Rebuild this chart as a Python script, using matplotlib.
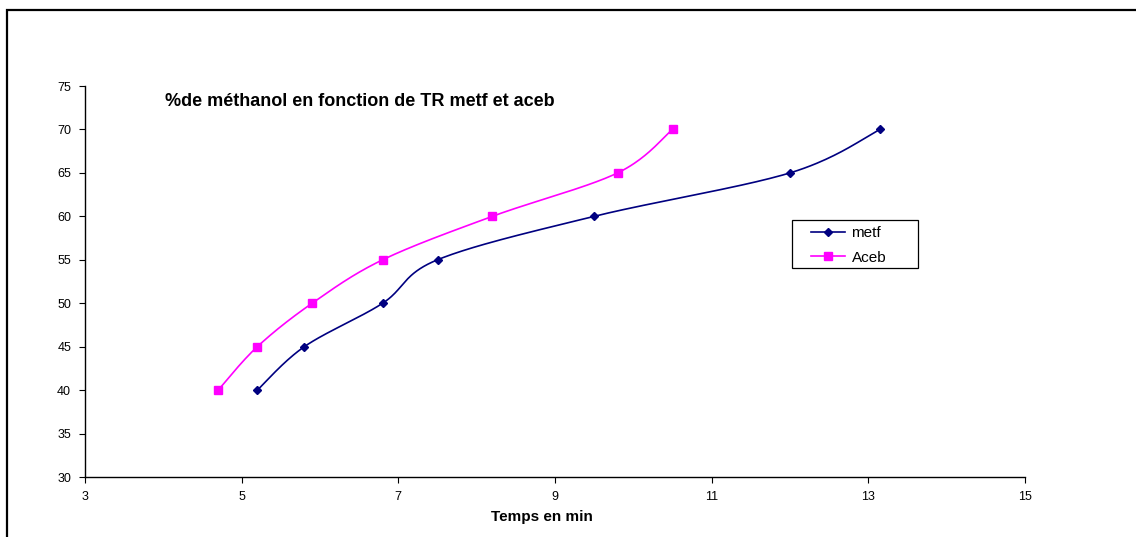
import numpy as np
import matplotlib
matplotlib.use("Agg")
import matplotlib.pyplot as plt
from matplotlib.patches import Rectangle
from matplotlib.lines import Line2D

plt.rcParams['font.family'] = ['Liberation Sans', 'DejaVu Sans']

# Retention times (min) and methanol percentage
metf_t = [5.2, 5.8, 6.8, 7.5, 9.5, 12.0, 13.15]
metf_pct = [40, 45, 50, 55, 60, 65, 70]
aceb_t = [4.7, 5.2, 5.9, 6.8, 8.2, 9.8, 10.5]
aceb_pct = [40, 45, 50, 55, 60, 65, 70]

x_ticks = [3, 5, 7, 9, 11, 13, 15]
y_ticks = [30, 35, 40, 45, 50, 55, 60, 65, 70, 75]

title = "%de méthanol en fonction de TR metf et aceb"
xlabel = "Temps en min"
series_names = ['metf', 'Aceb']


def smooth(x, y, n=40):
    """Piecewise cubic Bezier through the points (spreadsheet-style smoothing)."""
    p = np.column_stack([x, y]).astype(float)
    m = len(p)
    out = [p[0]]
    for i in range(m - 1):
        p_prev = p[i - 1] if i > 0 else p[i]
        p_next2 = p[i + 2] if i + 2 < m else p[i + 1]
        c1 = p[i] + (p[i + 1] - p_prev) / 6.0
        c2 = p[i + 1] - (p_next2 - p[i]) / 6.0
        t = np.linspace(0, 1, n)[1:, None]
        seg = ((1 - t) ** 3 * p[i] + 3 * (1 - t) ** 2 * t * c1
               + 3 * (1 - t) * t ** 2 * c2 + t ** 3 * p[i + 1])
        out.extend(seg)
    out = np.array(out)
    return out[:, 0], out[:, 1]


W, H = 1136, 537
fig = plt.figure(figsize=(W / 100, H / 100), dpi=100)
fig.patch.set_facecolor('white')

# outer chart frame (runs off the right and bottom edges)
fig.patches.append(Rectangle((6.5 / W, -0.05), 1.2, 1.05 - 9.5 / H,
                             transform=fig.transFigure, fill=False,
                             edgecolor='black', linewidth=1.6, zorder=0))

ax = fig.add_axes([85 / W, (H - 477) / H, 940 / W, 391 / H])
ax.set_xlim(3, 15)
ax.set_ylim(30, 75)
ax.set_xticks(x_ticks)
ax.set_yticks(y_ticks)
ax.set_xticklabels([str(v) for v in x_ticks])
ax.set_yticklabels([str(v) for v in y_ticks])
for s in ['top', 'right']:
    ax.spines[s].set_visible(False)
for s in ['left', 'bottom']:
    ax.spines[s].set_linewidth(1.0)
ax.tick_params(direction='out', length=4, width=0.8, labelsize=9,
               colors='black', pad=6)

navy = '#000080'
magenta = '#FF00FF'

sx, sy = smooth(metf_t, metf_pct)
ax.plot(sx, sy, color=navy, lw=1.2, clip_on=False)
ax.plot(metf_t, metf_pct, ls='none', marker='D', ms=4.5, color=navy,
        clip_on=False)

sx, sy = smooth(aceb_t, aceb_pct)
ax.plot(sx, sy, color=magenta, lw=1.2, clip_on=False)
ax.plot(aceb_t, aceb_pct, ls='none', marker='s', ms=5.5, color=magenta,
        clip_on=False)

fig.text(165 / W, 1 - 101 / H, title, fontsize=13, fontweight='bold',
         ha='left', va='center')
fig.text(542 / W, 1 - 517 / H, xlabel, fontsize=11, fontweight='bold',
         ha='center', va='center')

# legend box with its entries
fig.patches.append(Rectangle((792 / W, 1 - 268 / H), 126 / W, 48 / H,
                             transform=fig.transFigure, fill=True,
                             facecolor='white', edgecolor='black',
                             linewidth=0.9, zorder=5))
handles = [Line2D([], [], color=navy, marker='D', ms=4.5, lw=1.2),
           Line2D([], [], color=magenta, marker='s', ms=5.5, lw=1.2)]
leg = fig.legend(handles, series_names, loc='upper left',
                 bbox_to_anchor=(811 / W, 1 - 226 / H), frameon=False,
                 fontsize=11, handlelength=2.2, borderpad=0,
                 labelspacing=0.7, handletextpad=0.45, borderaxespad=0)
leg.set_zorder(6)

fig.savefig('out.png', dpi=100, facecolor='white')
